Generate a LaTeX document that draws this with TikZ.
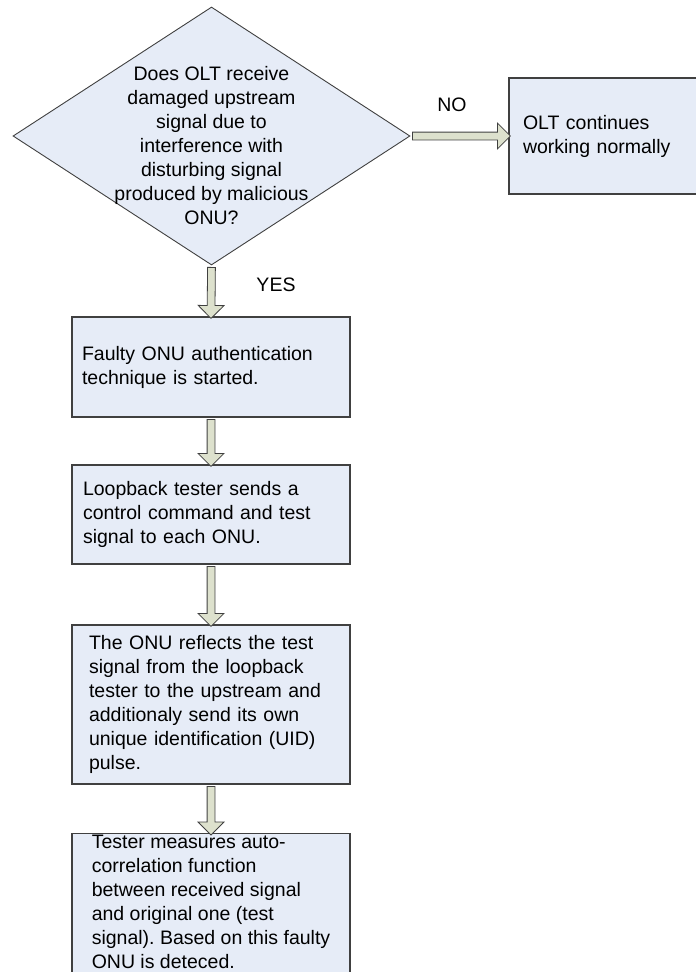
\documentclass[tikz,border=0pt]{standalone}
\usepackage{fontspec}
\setmainfont{Liberation Sans}
\usetikzlibrary{shapes.geometric,shapes.arrows,calc}
\frenchspacing

\definecolor{boxfill}{RGB}{230,236,247}
\definecolor{arrowfill}{RGB}{221,225,205}
\definecolor{edgegray}{RGB}{64,64,64}

\tikzset{
  decision/.style={diamond, draw=edgegray, line width=0.9pt, fill=boxfill,
    inner sep=0pt, minimum width=397pt, minimum height=258pt},
  stepbox/.style={rectangle, draw=edgegray, line width=1.1pt, fill=boxfill,
    align=left, inner ysep=0pt},
  arrowshape/.style={single arrow, draw=edgegray, line width=0.8pt, fill=arrowfill,
    inner xsep=0pt, inner ysep=3.5pt, single arrow head extend=9pt},
  blockarrow/.style={to path={
    let \p1=(\tikztostart), \p2=(\tikztotarget),
        \n1={veclen(\x2-\x1,\y2-\y1)} in
    node[arrowshape, minimum height=\n1, rotate={atan2(\y2-\y1,\x2-\x1)}]
      at ($(\p1)!0.5!(\p2)$) {}}}
}

\begin{document}
\begin{tikzpicture}[x=1pt, y=-1pt, font=\fontsize{19.5}{24}\selectfont]
  \useasboundingbox (0,0) rectangle (696,972);
  \clip (0,0) rectangle (696,972);

  % Decision
  \node[decision] (d) at (211.5,136) {};
  \node[align=center] (dtext) at (211.5,146)
    {Does OLT receive\\damaged upstream\\signal due to\\interference with\\disturbing signal\\produced by malicious\\ONU?};

  % Boxes
  \node[stepbox, minimum width=211pt, minimum height=116pt, text width=183pt, inner xsep=14pt]
    (ok) at (614.5,136) {OLT continues\\working normally};
  \node[stepbox, minimum width=278pt, minimum height=100pt, text width=258pt, inner xsep=10pt]
    (auth) at (211,367) {Faulty ONU authentication\\technique is started.};
  \node[stepbox, minimum width=278pt, minimum height=99pt, text width=256pt, inner xsep=11pt]
    (send) at (211,514.5) {Loopback tester sends a\\control command and test\\signal to each ONU.};
  \node[stepbox, minimum width=278pt, minimum height=159pt, text width=244pt, inner xsep=17pt]
    (reflect) at (211,704.5) {The ONU reflects the test\\signal from the loopback\\tester to the upstream and\\additionaly send its own\\unique identification (UID)\\pulse.};
  \node[stepbox, anchor=north, minimum width=278pt, inner xsep=4pt, inner ysep=2pt]
    (detect) at (211,833) {Tester measures auto-\\correlation function\\between received signal\\and original one (test\\signal). Based on this faulty\\ONU is deteced.\\ \mbox{}};

  % Arrows
  \path (d.east) to[blockarrow] (ok.west);
  \path (d.south) to[blockarrow] (auth.north);
  \path (auth.south) to[blockarrow] (send.north);
  \path (send.south) to[blockarrow] (reflect.north);
  \path (reflect.south) to[blockarrow] (detect.north);

  % Labels
  \node (no) at (452,105) {NO};
  \node (yes) at (276,285) {YES};
\end{tikzpicture}
\end{document}
